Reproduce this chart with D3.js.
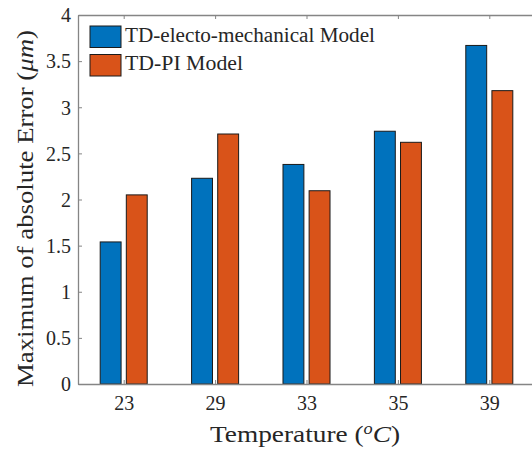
<!DOCTYPE html>
<html><head><meta charset="utf-8">
<script src="https://cdn.jsdelivr.net/npm/d3@7"></script>
<style>body{margin:0;background:#fff}svg{display:block}</style>
</head><body>
<svg id="c" width="532" height="450" font-family="Liberation Serif"></svg>
<script>
const categories = ["23","29","33","35","39"];
const seriesNames = ["TD-electo-mechanical Model","TD-PI Model"];
const electroValues = [1.54, 2.23, 2.38, 2.74, 3.67];
const piValues = [2.05, 2.71, 2.095, 2.62, 3.18];
const yTicks = [0,0.5,1,1.5,2,2.5,3,3.5,4];
const yTickLabels = ["0","0.5","1","1.5","2","2.5","3","3.5","4"];
const colors = ["#0072BD","#D95319"];

const FONT="Liberation Serif";
const svg = d3.select("#c");
const L=78, R=535, T=15, B=384;
const x = d3.scaleLinear().domain([0.5,5.5]).range([L,R]);
const y = d3.scaleLinear().domain([0,4]).range([B,T]);
const series=[electroValues,piValues];
const offsets=[-0.1429,0.1429], bw=0.2286;

series.forEach((vals,si)=>{
  svg.append("g").selectAll("rect").data(vals).join("rect")
    .attr("x",(d,i)=>x(i+1+offsets[si]-bw/2))
    .attr("width",x(bw)-x(0))
    .attr("y",d=>y(d)).attr("height",d=>y(0)-y(d))
    .attr("fill",colors[si]).attr("stroke","#1a1a1a").attr("stroke-width",1);
});

const axC="#858585";
const ya = svg.append("g").attr("transform",`translate(${L},0)`)
  .call(d3.axisLeft(y).tickValues(yTicks).tickFormat((d,i)=>yTickLabels[i]).tickSizeInner(-4).tickSizeOuter(0).tickPadding(7));
ya.attr("font-family",FONT).attr("font-size",20);
ya.select(".domain").attr("stroke",axC).attr("stroke-width",1.3);
ya.selectAll("line").attr("stroke",axC);
ya.selectAll("text").attr("font-family",FONT).attr("fill","#262626").attr("dy","0.34em");
const xa = svg.append("g").attr("transform",`translate(0,${B})`)
  .call(d3.axisBottom(x).tickValues([1,2,3,4,5]).tickFormat((d,i)=>categories[i]).tickSizeInner(-4).tickSizeOuter(0).tickPadding(12));
xa.attr("font-family",FONT).attr("font-size",20);
xa.select(".domain").attr("stroke",axC).attr("stroke-width",1.3);
xa.selectAll("line").attr("stroke",axC);
xa.selectAll("text").attr("font-family",FONT).attr("fill","#262626");
const ta = svg.append("g").attr("transform",`translate(0,${T})`)
  .call(d3.axisTop(x).tickValues([1,2,3,4,5]).tickFormat("").tickSizeInner(-4).tickSizeOuter(0));
ta.select(".domain").attr("stroke",axC).attr("stroke-width",1.3);
ta.selectAll("line").attr("stroke",axC);

const xl = svg.append("text").attr("x",210).attr("y",442)
  .attr("font-family",FONT).attr("font-size",24).attr("fill","#262626")
  .attr("textLength",190).attr("lengthAdjust","spacingAndGlyphs");
xl.append("tspan").text("Temperature (");
xl.append("tspan").attr("font-style","italic").attr("dy",-8).attr("font-size",16).text("o");
xl.append("tspan").attr("font-style","italic").attr("dy",8).text("C");
xl.append("tspan").text(")");
const yl = svg.append("text").attr("transform",`translate(33,387) rotate(-90)`)
  .attr("font-family",FONT).attr("font-size",24).attr("fill","#262626")
  .attr("textLength",357).attr("lengthAdjust","spacingAndGlyphs");
yl.append("tspan").text("Maximum of absolute Error (");
yl.append("tspan").attr("font-style","italic").text("μm");
yl.append("tspan").text(")");

const legLens=[250,118];
seriesNames.forEach((n,i)=>{
  svg.append("rect").attr("x",90).attr("y",26+i*28.5).attr("width",31).attr("height",21.5)
    .attr("fill",colors[i]).attr("stroke","#1a1a1a").attr("stroke-width",1);
  svg.append("text").attr("x",125).attr("y",41.7+i*28.3)
    .attr("font-family",FONT).attr("font-size",20).attr("fill","#262626")
    .attr("textLength",legLens[i]).attr("lengthAdjust","spacingAndGlyphs").text(n);
});
</script>
</body></html>
